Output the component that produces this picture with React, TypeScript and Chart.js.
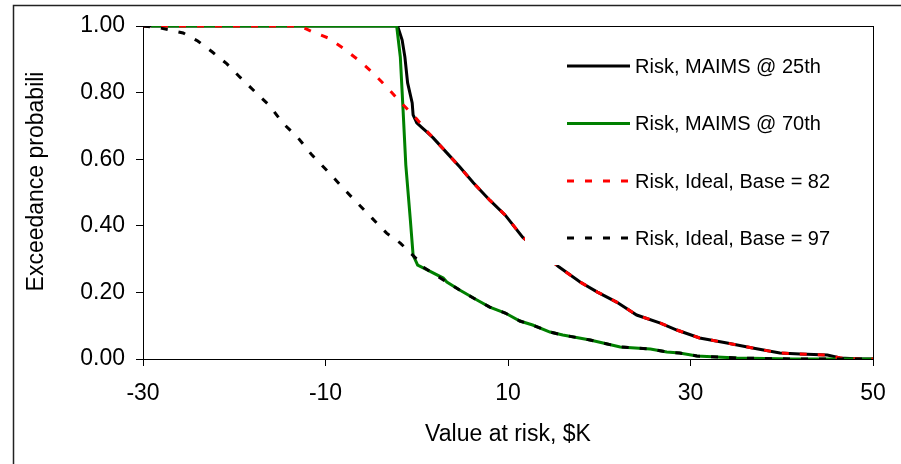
import React, { useEffect, useRef } from "react";
import { Chart, registerables } from "chart.js";

Chart.register(...registerables);

// ---- data ----
const seriesLabels = [
  "Risk, MAIMS @ 25th",
  "Risk, MAIMS @ 70th",
  "Risk, Ideal, Base = 82",
  "Risk, Ideal, Base = 97",
];

const xTicks = [-30, -10, 10, 30, 50];
const yTicks = [0, 0.2, 0.4, 0.6, 0.8, 1.0];

const maims25X = [-30, -2.1, -1.6, -1.3, -1.0, -0.5, -0.4, 0.0, 0.6, 1.1, 1.8, 3.3, 4.7, 6.2, 8.0, 9.7, 11.6, 15.6, 17.9, 19.8, 21.9, 24.1, 26.7, 28.5, 31.0, 34.0, 36.8, 39.8, 42.0, 45.0, 46.4, 48.6, 50];
const maims25Y = [1, 1, 0.958, 0.907, 0.829, 0.769, 0.733, 0.709, 0.694, 0.682, 0.664, 0.619, 0.577, 0.529, 0.477, 0.432, 0.366, 0.276, 0.231, 0.201, 0.171, 0.132, 0.108, 0.087, 0.063, 0.048, 0.033, 0.018, 0.015, 0.012, 0.003, 0, 0];

const maims70X = [-29.1, -2.2, -1.8, -1.5, -1.2, -0.7, -0.4, 0.1, 1.2, 2.9, 3.3, 4.7, 6.6, 8.0, 9.7, 11.3, 12.7, 14.6, 16.0, 19.0, 22.3, 25.6, 27.4, 28.8, 30.7, 35.1, 41.2, 50];
const maims70Y = [1, 1, 0.907, 0.748, 0.583, 0.417, 0.312, 0.282, 0.267, 0.243, 0.231, 0.207, 0.177, 0.156, 0.138, 0.114, 0.102, 0.081, 0.072, 0.057, 0.036, 0.030, 0.021, 0.018, 0.009, 0.003, 0, 0];

const base82X = [-30, -12.8, -11.4, -9.7, -8.1, -6.4, -4.9, -3.3, -1.8, -0.2, 1.2, 3.3, 4.7, 6.2, 8.0, 9.7, 11.6, 15.6, 17.9, 19.8, 21.9, 24.1, 26.7, 28.5, 31.0, 34.0, 36.8, 39.8, 42.0, 45.0, 46.4, 48.6, 50];
const base82Y = [1, 1, 0.982, 0.964, 0.934, 0.898, 0.862, 0.817, 0.772, 0.727, 0.682, 0.619, 0.577, 0.529, 0.477, 0.432, 0.366, 0.276, 0.231, 0.201, 0.171, 0.132, 0.108, 0.087, 0.063, 0.048, 0.033, 0.018, 0.015, 0.012, 0.003, 0, 0];

const base97X = [-30, -28.1, -25.6, -24.0, -22.4, -20.8, -19.4, -17.7, -16.1, -14.7, -13.0, -11.5, -9.7, -8.2, -6.5, -4.9, -3.3, -1.8, 0.0, 0.7, 3.3, 4.7, 6.6, 8.0, 9.7, 11.3, 12.7, 14.6, 16.0, 19.0, 22.3, 25.6, 27.4, 28.8, 30.7, 35.1, 41.2, 50];
const base97Y = [1, 0.994, 0.979, 0.955, 0.922, 0.886, 0.847, 0.802, 0.760, 0.709, 0.664, 0.613, 0.562, 0.517, 0.468, 0.423, 0.378, 0.348, 0.300, 0.276, 0.231, 0.207, 0.177, 0.156, 0.138, 0.114, 0.102, 0.081, 0.072, 0.057, 0.036, 0.030, 0.021, 0.018, 0.009, 0.003, 0, 0];

const xTitle = "Value at risk, $K";
const yTitle = "Exceedance probabili";

// ---- styles ----
const FONT = "'Liberation Sans', Arial, Helvetica, sans-serif";
const seriesColors = ["#000000", "#008000", "#ff0000", "#000000"];
const seriesDash: number[][] = [[], [], [7, 11], [7, 11]];
const LINE_W = 3;

const toPoints = (xs: number[], ys: number[]) => xs.map((x, i) => ({ x, y: ys[i] }));

const framePlugin = {
  id: "frame",
  beforeDraw(chart: any) {
    const ctx = chart.ctx;
    ctx.save();
    ctx.fillStyle = "#fff";
    ctx.fillRect(0, 0, chart.width, chart.height);
    ctx.strokeStyle = "#222";
    ctx.lineWidth = 1.5;
    ctx.beginPath();
    ctx.moveTo(13.5, chart.height);
    ctx.lineTo(13.5, 5.5);
    ctx.lineTo(chart.width, 5.5);
    ctx.stroke();
    ctx.restore();
  },
  beforeDatasetsDraw(chart: any) {
    const { ctx, chartArea: a } = chart;
    ctx.save();
    ctx.strokeStyle = "#000";
    ctx.lineWidth = 1;
    ctx.strokeRect(Math.round(a.left) + 0.5, Math.round(a.top) + 0.5, Math.round(a.right - a.left), Math.round(a.bottom - a.top));
    ctx.restore();
  },
  afterDatasetsDraw(chart: any) {
    const { ctx, chartArea: a } = chart;
    ctx.save();
    // legend background
    ctx.fillStyle = "#fff";
    ctx.fillRect(525, a.top + 1, a.right - 1 - 525, 265 - a.top - 1);
    const rows = [66, 123.5, 181, 238];
    ctx.font = "20px " + FONT;
    ctx.textBaseline = "middle";
    ctx.textAlign = "left";
    rows.forEach((ry, i) => {
      ctx.beginPath();
      ctx.strokeStyle = seriesColors[i];
      ctx.lineWidth = LINE_W;
      ctx.lineCap = "butt";
      ctx.setLineDash(seriesDash[i]);
      ctx.moveTo(567, ry);
      ctx.lineTo(630, ry);
      ctx.stroke();
      ctx.setLineDash([]);
      ctx.fillStyle = "#000";
      ctx.fillText(seriesLabels[i], 635, ry + 1);
    });
    // y-axis title
    ctx.translate(43, 181.5);
    ctx.rotate(-Math.PI / 2);
    ctx.font = "23px " + FONT;
    ctx.textAlign = "center";
    ctx.textBaseline = "alphabetic";
    ctx.fillStyle = "#000";
    ctx.fillText(yTitle, 0, 0);
    ctx.restore();
  },
};

export default function App() {
  const ref = useRef<HTMLCanvasElement>(null);
  useEffect(() => {
    if (!ref.current) return;
    Chart.defaults.font.family = FONT;
    Chart.defaults.color = "#000";
    const datasets = [
      { label: seriesLabels[0], data: toPoints(maims25X, maims25Y), order: 4 },
      { label: seriesLabels[1], data: toPoints(maims70X, maims70Y), order: 3 },
      { label: seriesLabels[2], data: toPoints(base82X, base82Y), order: 2 },
      { label: seriesLabels[3], data: toPoints(base97X, base97Y), order: 1 },
    ].map((d, i) => ({
      ...d,
      borderColor: seriesColors[i],
      backgroundColor: seriesColors[i],
      borderWidth: LINE_W,
      borderDash: seriesDash[i],
      borderCapStyle: "butt" as const,
      pointRadius: 0,
      tension: 0,
      fill: false,
    }));
    const chart = new Chart(ref.current, {
      type: "line",
      data: { datasets },
      options: {
        animation: false,
        responsive: false,
        maintainAspectRatio: false,
        layout: { padding: { left: 18, top: 26, right: 28, bottom: 12 } },
        plugins: { legend: { display: false }, tooltip: { enabled: false } },
        scales: {
          x: {
            type: "linear",
            min: -30,
            max: 50,
            afterBuildTicks: (s: any) => {
              s.ticks = xTicks.map((v) => ({ value: v }));
            },
            afterFit: (s: any) => {
              s.height = 93;
            },
            grid: { drawOnChartArea: false, drawTicks: true, tickLength: 7, color: "#000", lineWidth: 1 },
            border: { display: true, color: "#000", width: 1 },
            ticks: { font: { size: 23 }, color: "#000", padding: 14, maxRotation: 0, callback: (v: any) => String(v) },
            title: { display: true, text: xTitle, font: { size: 23 }, color: "#000", padding: { top: 4, bottom: 4 } },
          },
          y: {
            type: "linear",
            min: 0,
            max: 1,
            afterBuildTicks: (s: any) => {
              s.ticks = yTicks.map((v) => ({ value: v }));
            },
            afterFit: (s: any) => {
              s.width = 125;
            },
            grid: { drawOnChartArea: false, drawTicks: true, tickLength: 7, color: "#000", lineWidth: 1 },
            border: { display: true, color: "#000", width: 1 },
            ticks: { font: { size: 23 }, color: "#000", padding: 11, callback: (v: any) => Number(v).toFixed(2) },
            title: { display: false },
          },
        },
      },
      plugins: [framePlugin],
    });
    return () => chart.destroy();
  }, []);
  return (
    <div style={{ position: "fixed", left: 0, top: 0, width: 901, height: 464, background: "#fff" }}>
      <canvas ref={ref} width={901} height={464} style={{ width: "901px", height: "464px", display: "block" }} />
    </div>
  );
}
